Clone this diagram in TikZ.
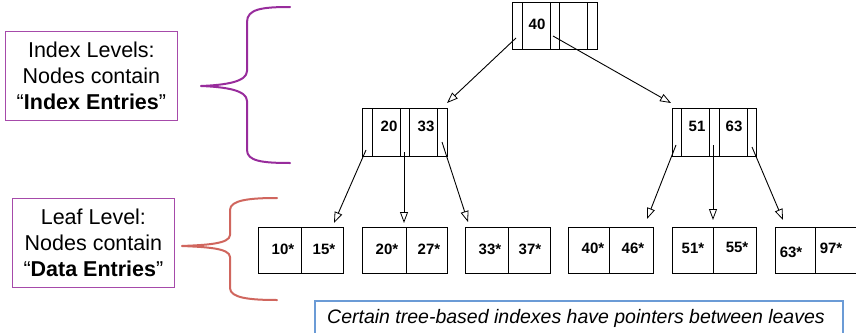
\documentclass[tikz,border=0pt]{standalone}
\usepackage{fontspec}
\setmainfont{Liberation Sans}
\usetikzlibrary{arrows.meta}

\definecolor{bracepurple}{HTML}{982C9C}
\definecolor{boxpurple}{HTML}{A64AAA}
\definecolor{bracered}{HTML}{D0665E}
\definecolor{noteblue}{HTML}{6B9BD6}

\tikzset{
  treenode/.style={draw=black, line width=0.9pt, minimum width=85pt, minimum height=47pt,
    inner sep=0pt, anchor=north west},
  leafnode/.style={draw=black, line width=0.9pt, minimum width=85pt, minimum height=46pt,
    inner sep=0pt, anchor=north west},
  cellrule/.style={line width=0.9pt},
  keytext/.style={font=\fontsize{15}{15}\selectfont\bfseries, inner sep=0pt},
  ptr/.style={line width=0.9pt, -{Triangle[open, length=11pt, width=8pt, line width=0.8pt]}},
  labelbox/.style={draw=boxpurple, line width=0.8pt, align=center, inner sep=0pt,
    font=\fontsize{21.5}{26}\selectfont},
  brace/.style={line width=2pt, line cap=round, line join=round},
}

\begin{document}
\begin{tikzpicture}[x=1pt, y=-1pt]
\useasboundingbox (0,0) rectangle (856,332);

% ---- root node ----
\node[treenode] (root) at (512,2) {};
\foreach \xx in {522,550,559,587} \draw[cellrule] (\xx,2) -- (\xx,49);
\node[keytext] (k40) at (537,24) {40};

% ---- second level ----
\node[treenode, minimum height=48pt] (midL) at (362,108) {};
\foreach \xx in {372,400,409,437} \draw[cellrule] (\xx,108) -- (\xx,156);
\node[keytext] (k20) at (389,126) {20};
\node[keytext] (k33) at (426,126) {33};

\node[treenode, minimum width=84pt, minimum height=48pt] (midR) at (672,108) {};
\foreach \xx in {681,709,719,747} \draw[cellrule] (\xx,108) -- (\xx,156);
\node[keytext] (k51) at (697,126) {51};
\node[keytext] (k63) at (734,126) {63};

% ---- leaves (the last one runs past the right edge) ----
\foreach \nm/\lx/\boxw/\dx/\ka/\kax/\kay/\kb/\kbx/\kby in {
  l1/258/85/301/10*/283/249/15*/324/249,
  l2/362/85/406/20*/387/249/27*/429/249,
  l3/465/85/508/33*/490/249/37*/530/249,
  l4/568/85/609/40*/593/248/46*/633/248,
  l5/672/84/713/51*/693/248/55*/737/247,
  l6/775/90/815/63*/791/252/97*/831/248}{
  \node[leafnode, minimum width=\boxw pt] (\nm) at (\lx,227) {};
  \draw[cellrule] (\dx,227) -- (\dx,273);
  \node[keytext] (\nm a) at (\kax,\kay) {\ka};
  \node[keytext] (\nm b) at (\kbx,\kby) {\kb};
}

% ---- pointer origins and arrow ends ----
\coordinate (pR0) at (516,38);
\coordinate (pR1) at (553,36);
\coordinate (inML) at (447,103);
\coordinate (inMR) at (671,103);

\coordinate (pL0) at (366,150);
\coordinate (pL1) at (404,152);
\coordinate (pL2) at (442,142);
\coordinate (in1) at (334,223);
\coordinate (in2) at (404,223);
\coordinate (in3) at (468,222);

\coordinate (pM0) at (676,145);
\coordinate (pM1) at (713,145);
\coordinate (pM2) at (752,147);
\coordinate (in4) at (647,219);
\coordinate (in5) at (713,220);
\coordinate (in6) at (783,220);

\draw[ptr] (pR0) -- (inML);
\draw[ptr] (pR1) -- (inMR);
\draw[ptr] (pL0) -- (in1);
\draw[ptr] (pL1) -- (in2);
\draw[ptr] (pL2) -- (in3);
\draw[ptr] (pM0) -- (in4);
\draw[ptr] (pM1) -- (in5);
\draw[ptr] (pM2) -- (in6);

% ---- level labels ----
\node[labelbox, minimum width=172pt, minimum height=89pt, anchor=north west] (idx) at (5,31)
  {Index Levels:\\Nodes contain\\“\textbf{Index Entries}”};
\node[labelbox, minimum width=162pt, minimum height=89pt, anchor=north west] (leaf) at (12,198)
  {Leaf Level:\\Nodes contain\\“\textbf{Data Entries}”};

% ---- braces ----
\coordinate (b1tip) at (201,86);
\draw[brace, bracepurple] (290,7) .. controls (262,7) and (247,9) .. (247,22)
  -- (247,71) .. controls (247,82) and (225,85) .. (b1tip)
  .. controls (225,87) and (247,90) .. (247,101)
  -- (247,150) .. controls (247,161) and (262,163) .. (290,163);

\coordinate (b2tip) at (182,246);
\draw[brace, bracered] (277,198) .. controls (250,198) and (230,200) .. (230,210)
  -- (230,235) .. controls (230,244) and (205,245) .. (b2tip)
  .. controls (205,247) and (230,248) .. (230,257)
  -- (230,288) .. controls (230,298) and (250,300) .. (277,300);

% ---- note ----
\node[draw=noteblue, line width=1.6pt, minimum width=528pt, minimum height=50pt,
  anchor=north west, inner sep=0pt] (note) at (314,300) {};
\node[font=\fontsize{19.5}{22}\selectfont\itshape, inner sep=0pt, anchor=west] (notetext)
  at (327,318) {Certain tree-based indexes have pointers between leaves};
\end{tikzpicture}
\end{document}
